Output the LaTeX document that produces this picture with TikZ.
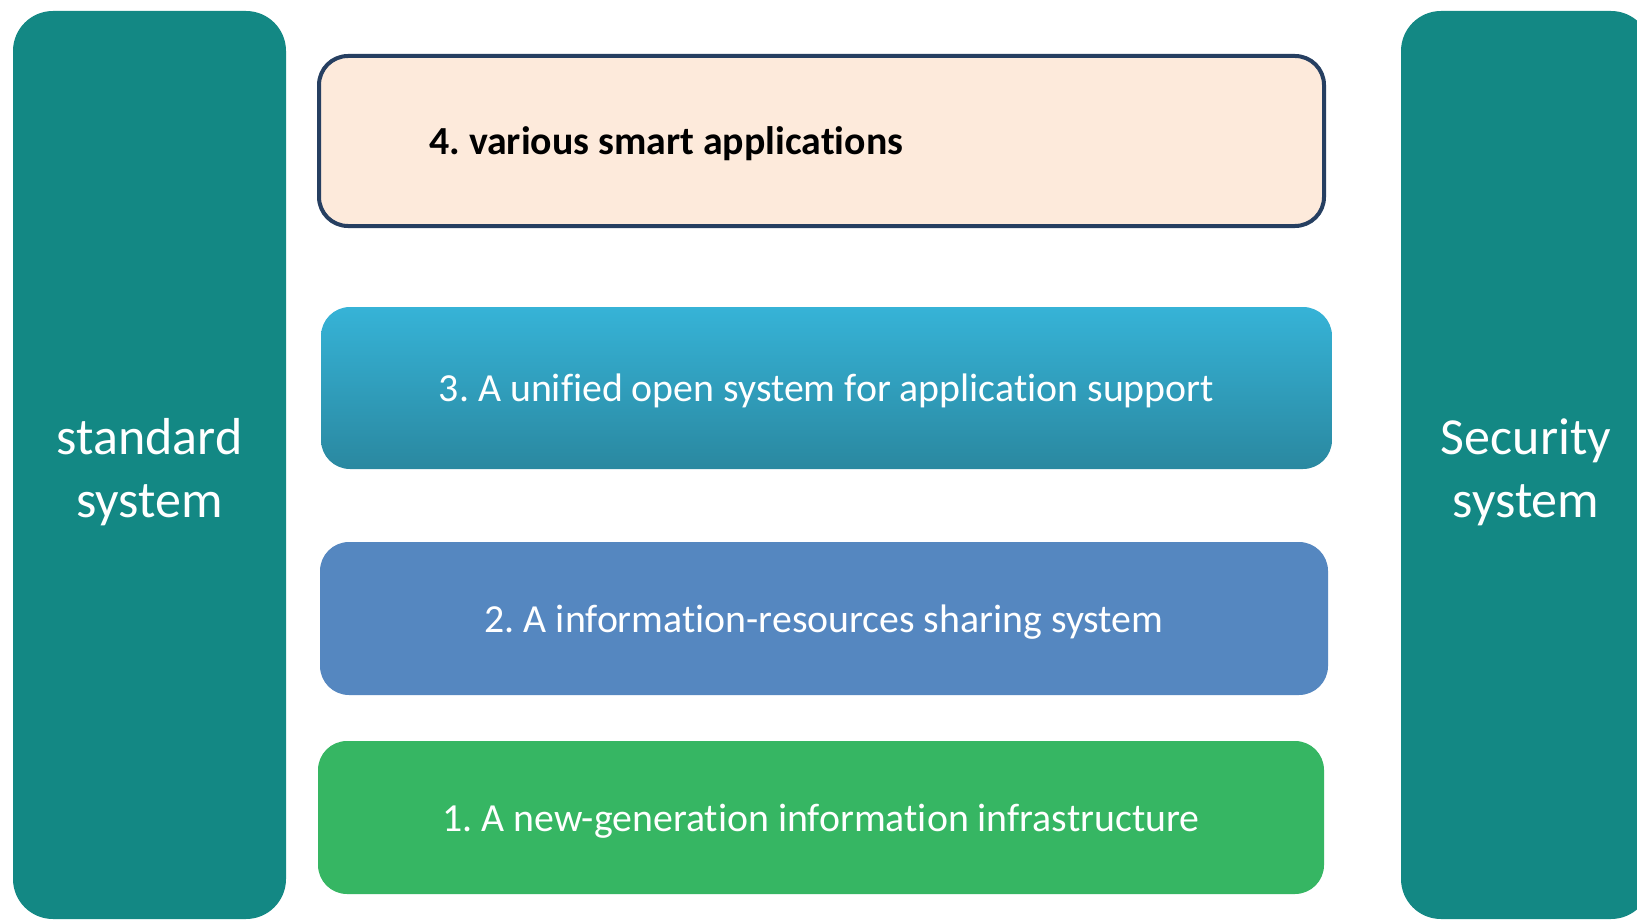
\documentclass[tikz,border=0pt]{standalone}
\usepackage{fontspec}
\setmainfont{Carlito}[RawFeature={-liga}]
\frenchspacing
\definecolor{teal}{HTML}{138884}
\definecolor{peach}{HTML}{FDEADB}
\definecolor{navy}{HTML}{263F61}
\definecolor{cyantop}{HTML}{36B3D7}
\definecolor{cyanbot}{HTML}{2A88A0}
\definecolor{bluebox}{HTML}{5587C0}
\definecolor{greenbox}{HTML}{36B663}
\tikzset{
  sidebox/.style={fill=teal, draw=none, rounded corners=40pt, inner sep=0pt, text=white, align=center, text depth=0pt, font=\fontsize{52}{63}\selectfont},
  layer/.style={draw=none, rounded corners=29pt, inner sep=0pt, text=white, text depth=0pt, font=\fontsize{39.8}{48}\selectfont},
}
\begin{document}
\begin{tikzpicture}[x=1pt,y=-1pt]
\useasboundingbox (0,0) rectangle (1637,920);
\clip (0,0) rectangle (1637,920);
\fill[white] (0,0) rectangle (1637,920);
\node[sidebox, minimum width=273pt, minimum height=908pt] (std) at (149.5,465) {};
\node[sidebox, minimum width=250pt, minimum height=908pt] (sec) at (1526,465) {};
\node[align=center, text=white, inner sep=0pt, text depth=0pt, font=\fontsize{52}{63}\selectfont] (stdt) at (149.5,468) {standard\\system};
\node[align=center, text=white, inner sep=0pt, text depth=0pt, font=\fontsize{52}{63}\selectfont] (sect) at (1526,468) {Security\\system};
\node[layer, fill=peach, draw=navy, line width=4pt, minimum width=1005pt, minimum height=170pt] (l4) at (821.5,141) {};
\node[anchor=west, inner sep=0pt, text depth=0pt, font=\fontsize{39.8}{48}\selectfont\bfseries] (l4t) at (429,141) {4. various smart applications};
\node[layer, top color=cyantop, bottom color=cyanbot, minimum width=1011pt, minimum height=162pt] (l3) at (826.5,388) {3. A unified open system for application support};
\node[layer, fill=bluebox, minimum width=1008pt, minimum height=153pt] (l2) at (824,618.5) {2. A information-resources sharing system};
\node[layer, fill=greenbox, minimum width=1006pt, minimum height=153pt] (l1) at (821,817.5) {1. A new-generation information infrastructure};
\end{tikzpicture}
\end{document}
